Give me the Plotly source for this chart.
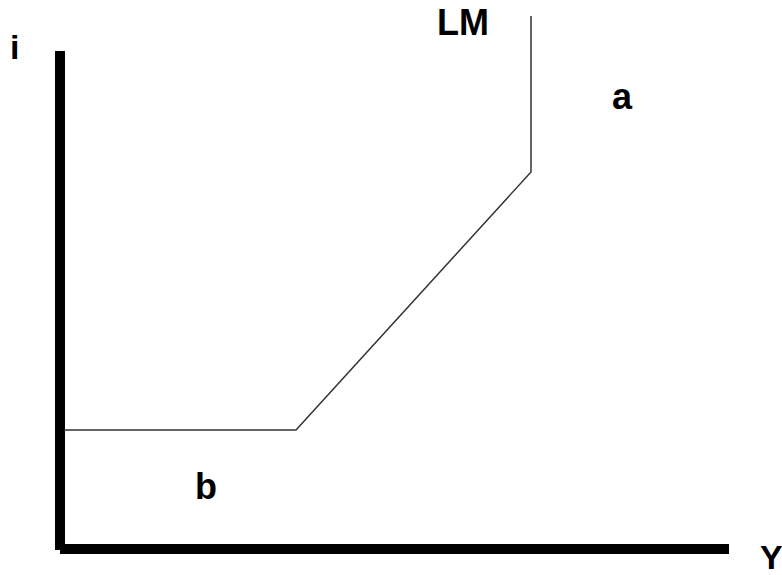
import plotly.graph_objects as go

W, H = 782, 575

# LM curve (Y, i) in chart units (pixel-based scale, y up)
lm_Y = [64, 296, 531, 531]
lm_i = [145, 145, 403, 559]

# axes lines
yaxis_Y = [60, 60]
yaxis_i = [25, 524]
xaxis_Y = [60, 729]
xaxis_i = [26, 26]

label_text = ["i", "Y", "LM", "a", "b"]
label_Y = [14, 771, 463, 622, 206]
label_i = [528, 18, 553, 479, 89]
label_size = [34, 34, 36, 36, 36]

fig = go.Figure()
fig.add_trace(go.Scatter(x=yaxis_Y, y=yaxis_i, mode="lines",
                         line=dict(color="black", width=10), hoverinfo="skip"))
fig.add_trace(go.Scatter(x=xaxis_Y, y=xaxis_i, mode="lines",
                         line=dict(color="black", width=10), hoverinfo="skip"))
fig.add_trace(go.Scatter(x=lm_Y, y=lm_i, mode="lines",
                         line=dict(color="#333333", width=1.5), hoverinfo="skip"))
for t, x, y, s in zip(label_text, label_Y, label_i, label_size):
    fig.add_annotation(x=x, y=y, text="<b>%s</b>" % t, showarrow=False,
                       font=dict(family="Liberation Sans, Arial", size=s, color="black"))

fig.update_layout(width=W, height=H, margin=dict(l=0, r=0, t=0, b=0),
                  paper_bgcolor="white", plot_bgcolor="white", showlegend=False,
                  xaxis=dict(range=[0, W], visible=False, fixedrange=True),
                  yaxis=dict(range=[0, H], visible=False, fixedrange=True))
fig.write_html("out.html", config={"displayModeBar": False},
               post_script="document.body.style.margin='0';document.body.style.overflow='hidden';")
